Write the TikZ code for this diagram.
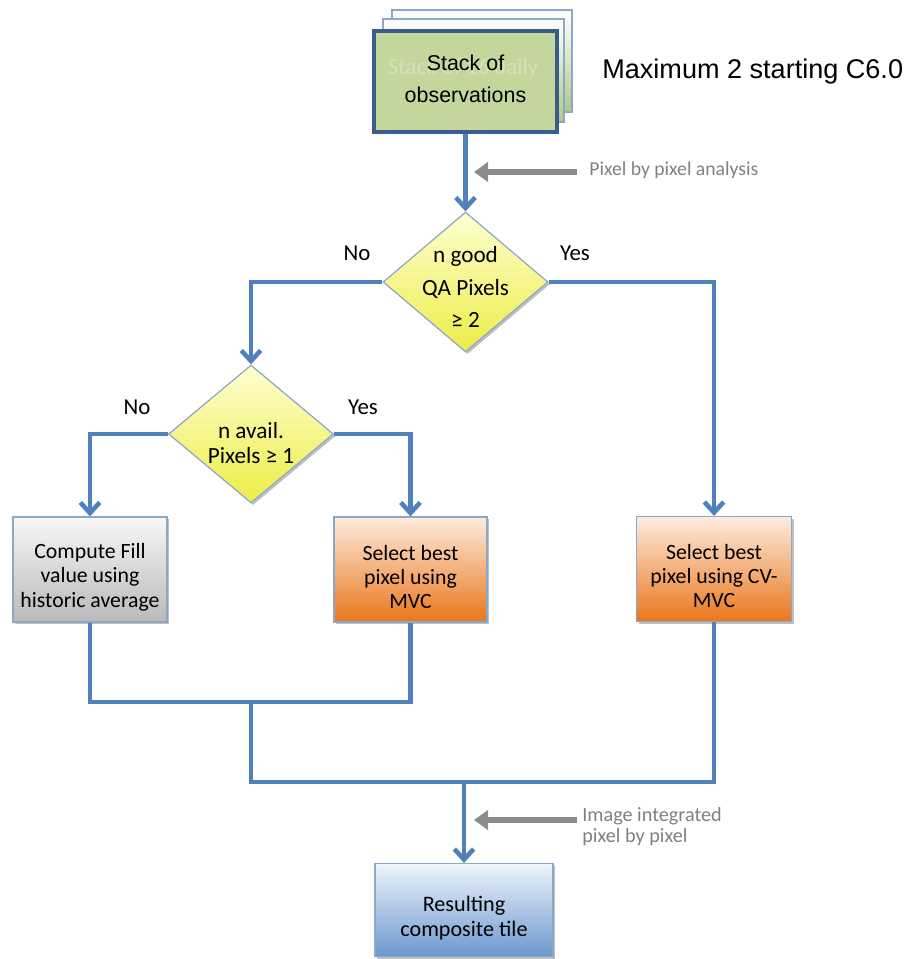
\documentclass[tikz,border=0pt]{standalone}
\usepackage{fontspec}
\setmainfont{Carlito}
\newfontfamily\arialf{Liberation Sans}
\usetikzlibrary{shapes.geometric,arrows.meta,shadows}
\definecolor{flowblue}{RGB}{79,129,189}
\definecolor{stackgreen}{RGB}{195,214,155}
\definecolor{stackborder}{RGB}{56,93,138}
\definecolor{thinborder}{RGB}{140,168,200}
\definecolor{notegray}{RGB}{128,128,128}
\definecolor{arrowgray}{RGB}{140,140,140}
\tikzset{
  x=0.02cm, y=-0.02cm,
  flow/.style={draw=flowblue, line width=2.8pt, line join=miter},
  flowarrow/.style={flow, -{Straight Barb[length=6pt,width=11pt,line width=2.6pt]}},
  notearrow/.style={draw=arrowgray, line width=3.2pt, -{Triangle[length=8pt,width=11pt]}},
  softshadow/.style={drop shadow={shadow xshift=1.2pt, shadow yshift=-1.2pt, opacity=0.25, fill=black}},
  sheet/.style={draw=thinborder, line width=0.6pt, top color=white, bottom color={rgb,255:red,175;green,200;blue,135}},
  stackbox/.style={draw=stackborder, line width=2.4pt, fill=stackgreen, minimum width=3.66cm, minimum height=2.02cm, inner sep=0pt},
  decision/.style={diamond, draw=thinborder, line width=0.7pt, top color={rgb,255:red,255;green,255;blue,210}, bottom color={rgb,255:red,236;green,236;blue,70}, inner sep=0pt, softshadow},
  dtext/.style={align=center, inner sep=0pt},
  procbox/.style={rectangle, draw=thinborder, line width=0.7pt, minimum height=2.1cm, inner sep=0pt, softshadow},
  boxtext/.style={align=center, inner sep=0pt, font=\fontsize{12.4}{13.9}\selectfont},
  graybox/.style={procbox, top color={rgb,255:red,247;green,247;blue,247}, bottom color={rgb,255:red,185;green,185;blue,185}},
  orangebox/.style={procbox, top color={rgb,255:red,253;green,236;blue,222}, bottom color={rgb,255:red,234;green,118;blue,28}},
  bluebox/.style={procbox, top color={rgb,255:red,238;green,244;blue,251}, bottom color={rgb,255:red,108;green,152;blue,208}},
  answer/.style={font=\fontsize{13}{15}\selectfont, inner sep=0pt},
  note/.style={font=\fontsize{11.2}{12}\selectfont, text=notegray, align=left, inner sep=0pt, anchor=west}
}
\begin{document}
\begin{tikzpicture}
\useasboundingbox (0,0) rectangle (916,959);
% stack of sheets
\path[sheet] (392,10) rectangle (572,112);
\path[sheet] (383,19) rectangle (564,122);
\node[stackbox] (stack) at (465.5,81.5) {};
\node[text=stackgreen!70!white, font=\fontsize{13}{14}\selectfont, inner sep=0pt] (ghost) at (463,68) {Stack of 16 daily};
\node[font=\arialf\fontsize{12.2}{18.6}\selectfont, align=center, inner sep=0pt] (stacktext) at (465.5,79) {Stack of\\observations};
\node[font=\arialf\fontsize{15.4}{18}\selectfont, anchor=west, inner sep=0pt] (maxnote) at (602,72) {Maximum 2 starting C6.0};

% decisions
\node[decision, minimum width=3.3cm, minimum height=2.8cm] (d1) at (465.5,282) {};
\node[dtext, font=\fontsize{13.2}{18.4}\selectfont] (d1t) at (465.5,287) {n good\\QA Pixels\\≥ 2};
\node[decision, minimum width=3.3cm, minimum height=2.76cm] (d2) at (251,434) {};
\node[dtext, font=\fontsize{13.2}{14.5}\selectfont] (d2t) at (251,443) {n avail.\\Pixels ≥ 1};

\node[answer] (no1) at (357,253) {No};
\node[answer] (yes1) at (575,253) {Yes};
\node[answer] (no2) at (137,407) {No};
\node[answer] (yes2) at (363,407) {Yes};

% process boxes
\node[graybox, minimum width=3.08cm] (b1) at (90,569.5) {};
\node[boxtext] (b1t) at (90,577) {Compute Fill\\value using\\historic average};
\node[orangebox, minimum width=3.06cm] (b2) at (410.5,569.5) {};
\node[boxtext] (b2t) at (410.5,577) {Select best\\pixel using\\MVC};
\node[orangebox, minimum width=3.1cm] (b3) at (714,569) {};
\node[boxtext] (b3t) at (714,576) {Select best\\pixel using CV-\\MVC};
\node[bluebox, minimum width=3.56cm, minimum height=1.86cm] (b4) at (464,910) {};
\node[boxtext, font=\fontsize{12.6}{13.9}\selectfont] (b4t) at (464,918) {Resulting\\composite tile};

% junction coordinates
\coordinate (m1) at (251,702);
\coordinate (m2) at (251,782);
\coordinate (m3) at (464,782);

% connectors
\draw[flowarrow] (stack.south) -- (d1.north);
\draw[flowarrow] (d1.west) -| (d2.north);
\draw[flowarrow] (d1.east) -| (b3.north);
\draw[flowarrow] (d2.west) -| (b1.north);
\draw[flowarrow] (d2.east) -| (b2.north);
\draw[flow] (b1.south) |- (m1) -| (b2.south);
\draw[flow] (m1) -- (m2) -| (b3.south);
\draw[flowarrow] (m3) -- (b4.north);

% annotation arrows
\coordinate (g1s) at (577,172);
\coordinate (g1e) at (474,172);
\coordinate (g2s) at (577,820);
\coordinate (g2e) at (474,820);
\draw[notearrow] (g1s) -- (g1e);
\draw[notearrow] (g2s) -- (g2e);
\node[note] (n1) at (589,170) {Pixel by pixel analysis};
\node[note, font=\fontsize{11.5}{12}\selectfont] (n2) at (582,827) {Image integrated\\pixel by pixel};
\end{tikzpicture}
\end{document}
